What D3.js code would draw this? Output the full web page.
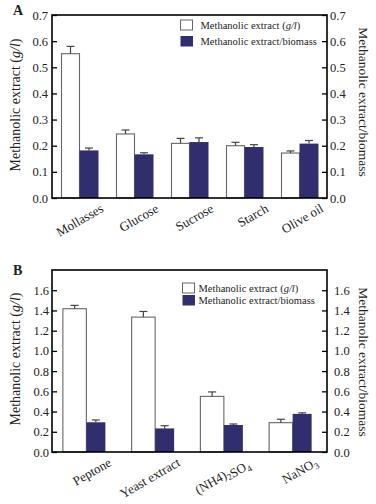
<!DOCTYPE html>
<html>
<head>
<meta charset="utf-8">
<title>Methanolic extract</title>
<script src="https://cdnjs.cloudflare.com/ajax/libs/d3/7.8.5/d3.min.js"></script>
<style>
    body { margin: 0; background: #fff; }
    svg text { font-family: "Liberation Serif", "DejaVu Serif", serif; fill: #222; }
    .axis path { display: none; }
    .axis line { stroke: #000; stroke-width: 1.3; }
    .axis text { font-size: 12.5px; }
</style>
</head>
<body>
<svg id="chart" width="376" height="504"></svg>
<script>
// panel A: carbon sources
var catsA = ["Mollasses", "Glucose", "Sucrose", "Starch", "Olive oil"];
var extractA = [0.552, 0.245, 0.209, 0.200, 0.172];
var extractErrA = [0.028, 0.015, 0.019, 0.013, 0.008];
var ratioA = [0.182, 0.167, 0.214, 0.195, 0.208];
var ratioErrA = [0.009, 0.006, 0.016, 0.009, 0.012];
var ticksA = [0, 0.1, 0.2, 0.3, 0.4, 0.5, 0.6, 0.7];

// panel B: nitrogen sources ("_" marks a subscript digit)
var catsB = ["Peptone", "Yeast extract", "(NH4)_2SO_4", "NaNO_3"];
var extractB = [1.417, 1.334, 0.550, 0.290];
var extractErrB = [0.033, 0.056, 0.044, 0.034];
var ratioB = [0.294, 0.233, 0.267, 0.377];
var ratioErrB = [0.023, 0.027, 0.010, 0.010];
var ticksB = [0, 0.2, 0.4, 0.6, 0.8, 1.0, 1.2, 1.4, 1.6];

var legendLabels = ["Methanolic extract (", "Methanolic extract/biomass"];
var leftTitle = "Methanolic extract (";
var rightTitle = "Methanolic extract/biomass";

var svg = d3.select("#chart");
var navy = "#312e6e";

function panel(o) {
    var g = svg.append("g");
    var x = d3.scaleBand().domain(o.cats).range([52, 327]).padding(0);
    var y = d3.scaleLinear().domain([0, o.ymax]).range([o.bottom, o.top]);
    var mid = function (c) { return x(c) + x.bandwidth() / 2; };

    // white bars
    g.selectAll("rect.ext")
        .data(o.cats)
        .enter()
        .append("rect")
        .attr("class", "ext")
        .attr("x", function (d) { return mid(d) - o.wW; })
        .attr("y", function (d, i) { return y(o.ext[i]); })
        .attr("width", o.wW)
        .attr("height", function (d, i) { return y(0) - y(o.ext[i]); })
        .attr("fill", "#fff")
        .attr("stroke", "#666")
        .attr("stroke-width", 1.1);

    // navy bars
    g.selectAll("rect.rat")
        .data(o.cats)
        .enter()
        .append("rect")
        .attr("class", "rat")
        .attr("x", function (d) { return mid(d); })
        .attr("y", function (d, i) { return y(o.rat[i]); })
        .attr("width", o.wB)
        .attr("height", function (d, i) { return y(0) - y(o.rat[i]); })
        .attr("fill", navy);

    // error bars (upper half only)
    function errs(vals, errsArr, cx) {
        o.cats.forEach(function (c, i) {
            var xc = cx(c);
            var y0 = y(vals[i]), y1 = y(vals[i] + errsArr[i]);
            g.append("line").attr("x1", xc).attr("x2", xc).attr("y1", y0).attr("y2", y1)
                .attr("stroke", "#444").attr("stroke-width", 1.2);
            g.append("line").attr("x1", xc - 4).attr("x2", xc + 4).attr("y1", y1).attr("y2", y1)
                .attr("stroke", "#444").attr("stroke-width", 1.2);
        });
    }
    errs(o.ext, o.extErr, function (c) { return mid(c) - o.wW / 2; });
    errs(o.rat, o.ratErr, function (c) { return mid(c) + o.wB / 2; });

    // axes
    g.append("g")
        .attr("class", "axis")
        .attr("transform", "translate(52,0)")
        .call(d3.axisLeft(y).tickValues(o.ticks).tickSize(-5).tickPadding(o.padL).tickFormat(d3.format(".1f")));
    g.append("g")
        .attr("class", "axis")
        .attr("transform", "translate(327,0)")
        .call(d3.axisRight(y).tickValues(o.ticks).tickSize(-5).tickPadding(o.padR).tickFormat(d3.format(".1f")));

    // frame
    g.append("rect")
        .attr("x", 52).attr("y", o.top)
        .attr("width", 275).attr("height", o.bottom - o.top)
        .attr("fill", "none").attr("stroke", "#000").attr("stroke-width", 1.6);

    // category labels
    o.cats.forEach(function (c) {
        var t = g.append("text")
            .attr("text-anchor", "end")
            .attr("font-size", "13px")
            .attr("transform", "translate(" + (mid(c) + o.lblDx) + "," + (o.bottom + o.lblDy) + ") rotate(-30)");
        c.split(/(_\d)/).forEach(function (part) {
            if (!part) return;
            if (part[0] === "_") {
                t.append("tspan").attr("font-size", "9px").attr("dy", 3).text(part.slice(1));
                t.append("tspan").attr("dy", -3).text("");
            } else {
                t.append("tspan").text(part);
            }
        });
    });

    // panel letter
    g.append("text").attr("x", 13).attr("y", o.top + o.letterDy)
        .attr("font-size", "14px").attr("font-weight", "bold").text(o.letter);

    // axis titles
    var lt = g.append("text")
        .attr("text-anchor", "middle")
        .attr("font-size", "14px")
        .attr("transform", "translate(20," + o.titleY + ") rotate(-90)");
    lt.append("tspan").text(leftTitle);
    lt.append("tspan").attr("font-style", "italic").text("g/l");
    lt.append("tspan").text(")");

    g.append("text")
        .attr("text-anchor", "middle")
        .attr("font-size", "13.5px")
        .attr("transform", "translate(359," + o.titleYR + ") rotate(90)")
        .text(rightTitle);

    // legend
    var lg = g.append("g");
    lg.append("rect").attr("x", o.legX).attr("y", o.legY)
        .attr("width", 12).attr("height", 10)
        .attr("fill", "#fff").attr("stroke", "#666").attr("stroke-width", 1);
    lg.append("rect").attr("x", o.legX).attr("y", o.legY + o.legGap)
        .attr("width", 12.5).attr("height", 10.5)
        .attr("fill", navy);
    var l1 = lg.append("text").attr("x", o.legX + o.legTx).attr("y", o.legY + 8.5).attr("font-size", "10.5px");
    l1.append("tspan").text(legendLabels[0]);
    l1.append("tspan").attr("font-style", "italic").text("g/l");
    l1.append("tspan").text(")");
    lg.append("text").attr("x", o.legX + o.legTx).attr("y", o.legY + o.legGap + 8.5)
        .attr("font-size", "10.5px").text(legendLabels[1]);
}

panel({
    letter: "A", cats: catsA, ext: extractA, extErr: extractErrA, rat: ratioA, ratErr: ratioErrA,
    ticks: ticksA, ymax: 0.7, top: 15, bottom: 198, wW: 18, wB: 19,
    padL: 4, padR: 3, lblDx: 25, lblDy: 13, letterDy: 0,
    titleY: 105, titleYR: 102,
    legX: 180.5, legY: 20, legGap: 16, legTx: 20
});

panel({
    letter: "B", cats: catsB, ext: extractB, extErr: extractErrB, rat: ratioB, ratErr: ratioErrB,
    ticks: ticksB, ymax: 1.8, top: 270, bottom: 452, wW: 23.5, wB: 19,
    padL: 3, padR: 7, lblDx: 26, lblDy: 13, letterDy: 5,
    titleY: 359, titleYR: 362,
    legX: 182.5, legY: 283, legGap: 12, legTx: 16
});
</script>
</body>
</html>
